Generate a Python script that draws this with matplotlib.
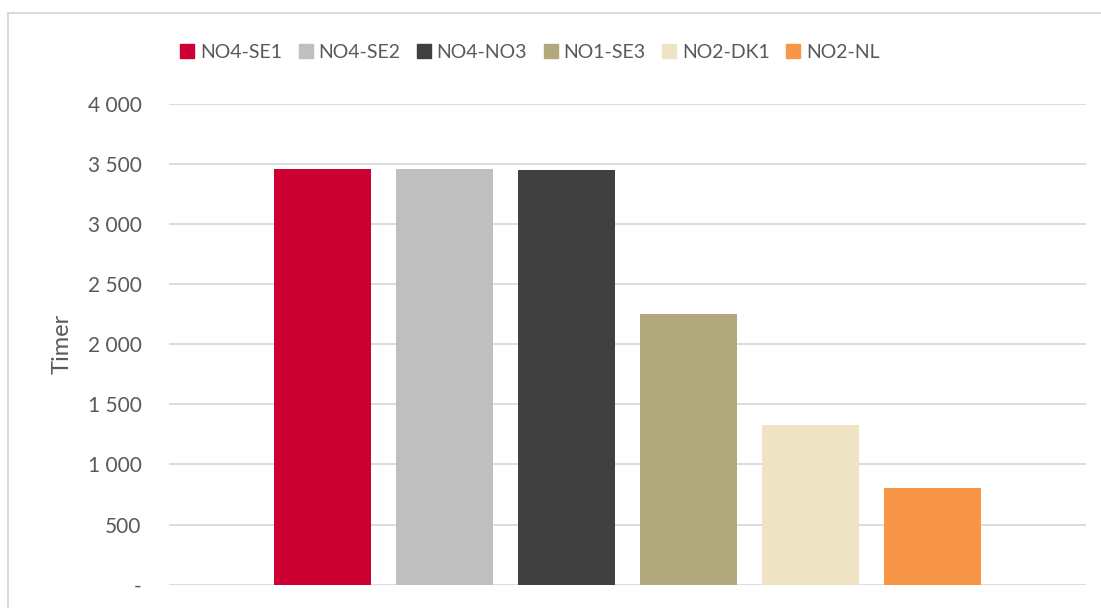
import matplotlib
matplotlib.use("Agg")
import matplotlib.pyplot as plt
from matplotlib.patches import Rectangle
from matplotlib.lines import Line2D

# Hours per interconnector
labels = ["NO4-SE1", "NO4-SE2", "NO4-NO3", "NO1-SE3", "NO2-DK1", "NO2-NL"]
hours = [3455, 3455, 3447, 2250, 1328, 804]
colors = ["#CC0033", "#BFBFBF", "#404040", "#B2A87E", "#EEE3C3", "#F79646"]
yticks = [0, 500, 1000, 1500, 2000, 2500, 3000, 3500, 4000]

plt.rcParams["font.family"] = ["Lato", "DejaVu Sans"]
text_color = "#595959"
grid_color = "#D9D9D9"

W, H = 1101, 608
fig = plt.figure(figsize=(W / 100, H / 100), dpi=100)

# Chart frame (runs past the right and bottom edges)
fig.add_artist(Line2D([7.5 / W, 1.0], [1 - 12.5 / H, 1 - 12.5 / H],
                      transform=fig.transFigure, color=grid_color, lw=1.4))
fig.add_artist(Line2D([7.5 / W, 7.5 / W], [0.0, 1 - 12.5 / H],
                      transform=fig.transFigure, color=grid_color, lw=1.4))

left, right = 169.3 / W, 1085.7 / W
bottom, top = 1 - 584.7 / H, 1 - 103.5 / H
ax = fig.add_axes([left, bottom, right - left, top - bottom])

x = list(range(len(labels)))
bw = 97 / 122
ax.bar(x, hours, width=bw, color=colors, zorder=3)

ax.set_xlim(-1.256, len(labels) - 1 + 1.256)
ax.set_ylim(0, 4000)
ax.set_yticks(yticks)
ax.set_yticklabels(["-" if v == 0 else f"{v:,}".replace(",", " ") for v in yticks])
ax.set_xticks([])
ax.tick_params(axis="y", length=0, pad=20, labelsize=15, labelcolor=text_color)
ax.grid(axis="y", color=grid_color, lw=1.3, zorder=0)
for s in ax.spines.values():
    s.set_visible(False)

ax.set_ylabel("Timer", fontsize=17, color=text_color)
ax.yaxis.set_label_coords(-0.106, 0.5)

handles = [Rectangle((0, 0), 1, 1, color=c) for c in colors]
fig.legend(handles, labels, loc="center", bbox_to_anchor=(530 / W, 1 - 52 / H),
           ncol=6, frameon=False, fontsize=14, handlelength=0.72, handleheight=0.72,
           handletextpad=0.3, columnspacing=0.85, labelcolor=text_color)

fig.savefig("out.png", dpi=100, facecolor="white")
